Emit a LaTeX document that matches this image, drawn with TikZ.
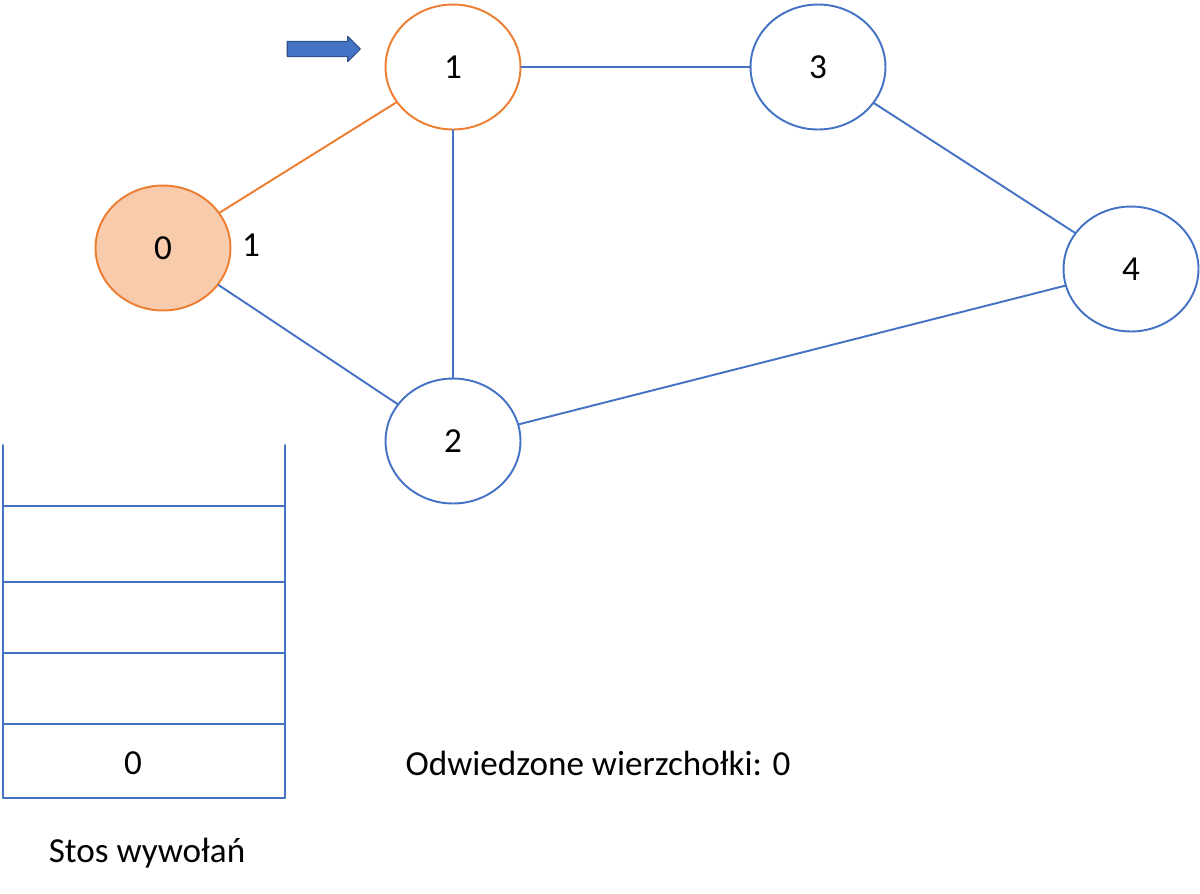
\documentclass[tikz,border=0pt]{standalone}
\usepackage{fontspec}
\setmainfont{Carlito}
\usetikzlibrary{shapes.geometric,shapes.arrows}
\definecolor{gblue}{HTML}{4472C4}
\definecolor{gorange}{HTML}{ED7D31}
\definecolor{gpeach}{HTML}{F8CBAD}
\tikzset{every picture/.style={line cap=round, line join=round}}
\tikzset{vert/.style={draw=gblue, ellipse, line width=1.1pt, fill=white,
  minimum width=2.7cm, minimum height=2.5cm, font=\fontsize{20}{24}\selectfont}}
\tikzset{edge/.style={draw=gblue, line width=1.1pt}}
\tikzset{txt/.style={font=\fontsize{20}{24}\selectfont}}
\begin{document}
\begin{tikzpicture}[x=0.02cm,y=-0.02cm]
  \useasboundingbox (0,0) rectangle (1200,893);
  % graph
  \node[vert, draw=gorange, fill=gpeach] (v0) at (163,248) {0};
  \node[vert, draw=gorange] (v1) at (453,67) {1};
  \node[vert] (v3) at (818,67) {3};
  \node[vert] (v4) at (1131,269) {4};
  \node[vert] (v2) at (453,441) {2};
  \draw[edge, draw=gorange] (v0) -- (v1);
  \draw[edge] (v0) -- (v2);
  \draw[edge] (v1) -- (v3);
  \draw[edge] (v1) -- (v2);
  \draw[edge] (v3) -- (v4);
  \draw[edge] (v2) -- (v4);
  \node[txt] (w01) at (251,245) {1};
  \node[single arrow, fill=gblue, draw=gblue!70!black, line width=0.6pt,
    minimum height=1.46cm, inner xsep=0pt, inner ysep=0.14cm,
    single arrow head extend=0.1cm, single arrow head indent=0pt] (ptr) at (320,49) {};
  % stack
  \coordinate (sl) at (3,445);
  \coordinate (sr) at (285,445);
  \draw[edge] (sl) -- (3,798) -- (285,798) -- (sr);
  \foreach \y in {506,582,653,724}
    \draw[edge] (3,\y) -- (285,\y);
  \node[txt] (s0) at (133,763) {0};
  \node[txt] (stos) at (147,853) {Stos wywołań};
  \node[txt] (odw) at (598,763) {Odwiedzone wierzchołki: 0};
\end{tikzpicture}
\end{document}
